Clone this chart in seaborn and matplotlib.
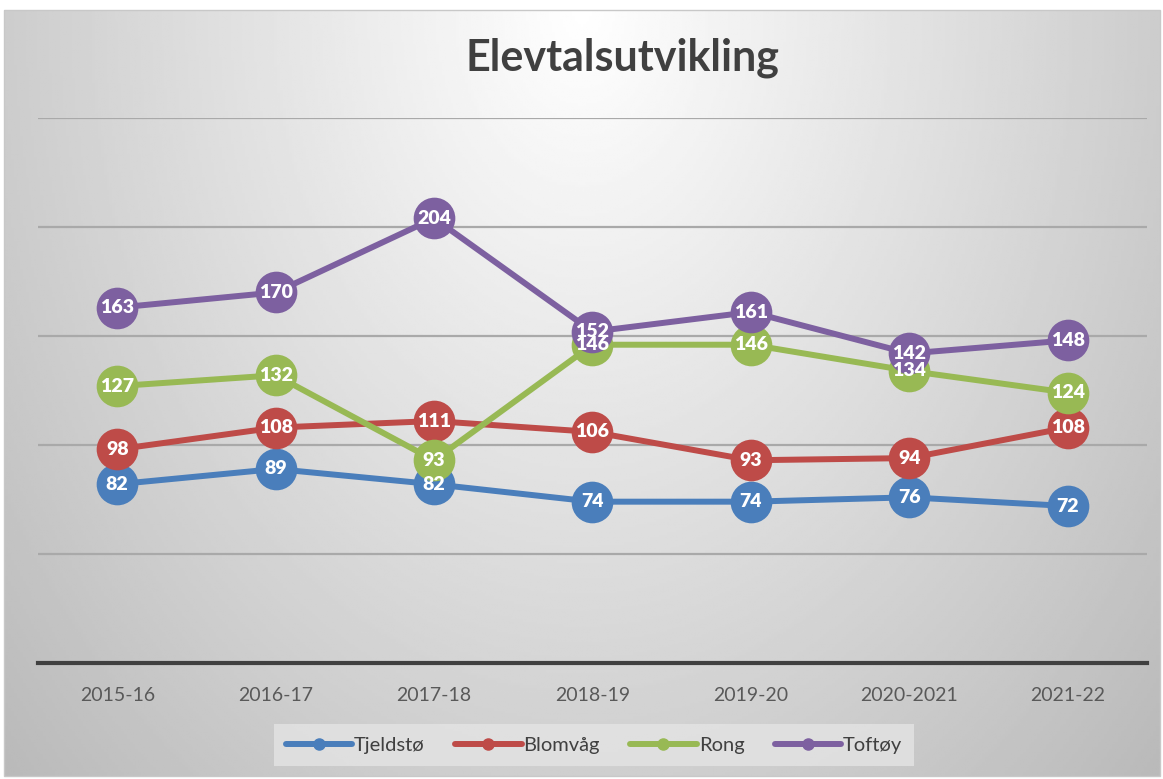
import numpy as np
import pandas as pd
import seaborn as sns
import matplotlib.pyplot as plt

# data
years = ["2015-16", "2016-17", "2017-18", "2018-19", "2019-20", "2020-2021", "2021-22"]
tjeldsto = [82, 89, 82, 74, 74, 76, 72]
blomvag = [98, 108, 111, 106, 93, 94, 108]
rong = [127, 132, 93, 146, 146, 134, 124]
toftoy = [163, 170, 204, 152, 161, 142, 148]

series = {"Tjeldstø": tjeldsto, "Blomvåg": blomvag, "Rong": rong, "Toftøy": toftoy}
colors = ["#4a7ebb", "#be4b48", "#98b954", "#7d60a0"]

rows = []
for name, vals in series.items():
    for i, (yr, v) in enumerate(zip(years, vals)):
        rows.append({"år": yr, "pos": i, "skule": name, "elevar": v})
df = pd.DataFrame(rows)

sns.set_theme(style="white")
plt.rcParams['font.family'] = ['Lato', 'DejaVu Sans']

fig = plt.figure(figsize=(11.63, 7.79), dpi=100)

# gradient background of the chart area
bg = fig.add_axes([4 / 1163, 1 - 776 / 779, 1156 / 1163, 766 / 779])
gx, gy = np.meshgrid(np.linspace(-1, 1, 400), np.linspace(0, 1, 300))
r = np.sqrt((gx / 1.05) ** 2 + (gy / 1.1) ** 2)
shade = 1.0 - 0.27 * np.clip(r, 0, 1.3) / 1.3
bg.imshow(shade, cmap="gray", vmin=0, vmax=1, aspect="auto", extent=[0, 1, 0, 1],
          origin="upper")
bg.set_axis_off()
fig.patches.append(plt.Rectangle((4 / 1163, 1 - 776 / 779), 1156 / 1163, 766 / 779,
                                 transform=fig.transFigure, fill=False,
                                 edgecolor="#c8c8c8", linewidth=1))

ax = fig.add_axes([38 / 1163, 116 / 779, 1109 / 1163, 545 / 779])
ax.patch.set_alpha(0)

sns.lineplot(data=df, x="pos", y="elevar", hue="skule", palette=colors,
             marker="o", markersize=30, linewidth=4.3, markeredgewidth=0,
             ax=ax, legend=False, zorder=3)

for (name, vals), c in zip(series.items(), colors):
    for i, v in enumerate(vals):
        ax.text(i, v, str(v), ha="center", va="center", color="white",
                fontsize=14, fontweight="heavy", zorder=5)

ax.set_xlim(-0.5, 6.5)
ax.set_ylim(0, 250)
ax.set_yticks([50, 100, 150, 200, 250])
ax.yaxis.grid(True, color="#a9a9a9", linewidth=1.6)
ax.set_axisbelow(True)
ax.set_yticklabels([])
ax.tick_params(axis="y", length=0)
ax.set_xticks(range(len(years)))
ax.set_xticklabels(years, fontsize=14, color="#595959")
ax.tick_params(axis="x", length=0, pad=17)
for side in ["top", "right", "left"]:
    ax.spines[side].set_visible(False)
ax.spines["bottom"].set_color("#404040")
ax.spines["bottom"].set_linewidth(3)
ax.set_xlabel("")
ax.set_ylabel("")

fig.text(622 / 1163, 1 - 58 / 779, "Elevtalsutvikling", ha="center", va="center",
         fontsize=31, fontweight="bold", color="#404040")

handles = [plt.Line2D([0], [0], color=c, linewidth=4.3, marker="o", markersize=8)
           for c in colors]
leg = fig.legend(handles, list(series.keys()), loc="center",
                 bbox_to_anchor=(594 / 1163, 1 - 745 / 779), ncol=4,
                 fontsize=14.5, frameon=True, handlelength=3.3, handletextpad=0.1,
                 columnspacing=1.5, borderpad=0.6)
leg.get_frame().set_facecolor("#e4e4e4")
leg.get_frame().set_edgecolor("none")
leg.get_frame().set_boxstyle("square", pad=0)
for t in leg.get_texts():
    t.set_color("#404040")

fig.savefig("out.png", dpi=100)
